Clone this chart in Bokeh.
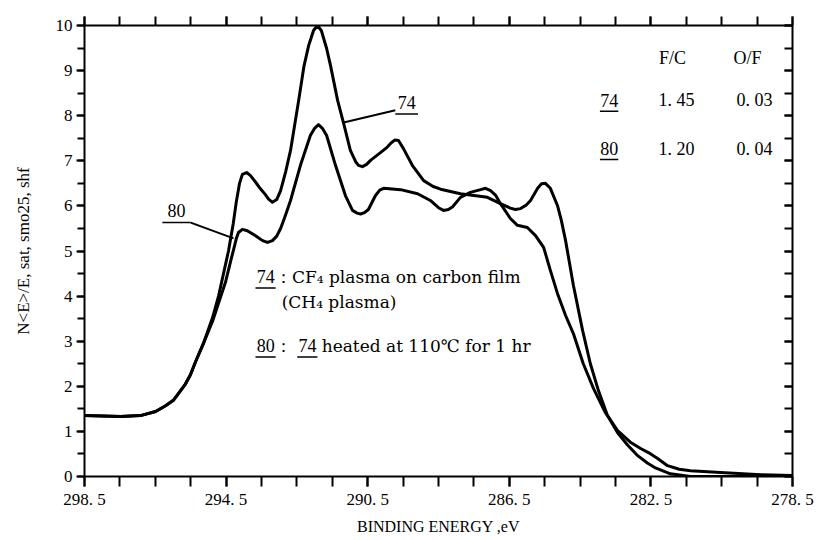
from bokeh.plotting import figure
from bokeh.models import Range1d, FixedTicker, LinearAxis, Label
from bokeh.embed import file_html
from bokeh.resources import INLINE

# ---- data (binding energy in eV, intensity) ----
energy_74 = [298.5, 297.48, 296.92, 296.49, 296.21, 295.99, 295.79, 295.65, 295.51, 295.36,
             295.14, 294.88, 294.71, 294.43, 294.3, 294.21, 294.12, 294.04, 293.92, 293.81,
             293.67, 293.53, 293.39, 293.3, 293.19, 293.07, 292.96, 292.82, 292.68, 292.45,
             292.3, 292.17, 292.03, 291.92, 291.81, 291.66, 291.55, 291.35, 291.18, 290.99,
             290.84, 290.76, 290.65, 290.53, 290.42, 290.14, 289.98, 289.86, 289.74, 289.63,
             289.49, 289.24, 288.92, 288.65, 288.44, 287.88, 287.12, 286.75, 286.47, 286.33,
             286.18, 286.02, 285.9, 285.7, 285.59, 285.48, 285.34, 285.14, 285.03, 284.91,
             284.69, 284.43, 284.21, 283.98, 283.73, 283.44, 283.16, 282.9, 282.6, 282.37,
             281.95, 281.38, 280.53, 279.4, 278.5]
intensity_74 = [1.35, 1.33, 1.35, 1.44, 1.57, 1.69, 1.9, 2.05, 2.25, 2.55,
                2.95, 3.53, 4.01, 5.01, 5.6, 6.1, 6.5, 6.7, 6.74, 6.67,
                6.53, 6.38, 6.25, 6.15, 6.08, 6.14, 6.34, 6.75, 7.23, 8.34,
                9.1, 9.55, 9.89, 10.0, 9.89, 9.49, 9.11, 8.34, 7.83, 7.23,
                6.98, 6.9, 6.87, 6.92, 7.01, 7.18, 7.28, 7.38, 7.46, 7.45,
                7.27, 6.9, 6.56, 6.43, 6.37, 6.27, 6.19, 6.05, 5.95, 5.92,
                5.94, 6.02, 6.12, 6.39, 6.49, 6.5, 6.39, 6.01, 5.68, 5.23,
                4.24, 3.24, 2.5, 1.9, 1.36, 0.97, 0.7, 0.48, 0.3, 0.19,
                0.06, 0.0, 0.0, 0.0, 0.0]

energy_80 = [298.5, 297.48, 296.92, 296.49, 296.21, 295.99, 295.79, 295.65, 295.51, 295.36,
             295.14, 294.88, 294.71, 294.52, 294.38, 294.26, 294.21, 294.15, 294.04, 293.9,
             293.67, 293.47, 293.33, 293.19, 293.07, 292.96, 292.82, 292.68, 292.4, 292.12,
             292.0, 291.89, 291.78, 291.66, 291.41, 291.13, 290.93, 290.8, 290.7, 290.59,
             290.48, 290.28, 290.16, 290.05, 289.57, 289.09, 288.73, 288.5, 288.36, 288.22,
             288.1, 287.88, 287.6, 287.31, 287.17, 287.03, 286.89, 286.75, 286.47, 286.27,
             285.99, 285.76, 285.53, 285.34, 285.14, 284.91, 284.69, 284.41, 284.12, 283.79,
             283.44, 283.08, 282.79, 282.57, 282.31, 282.03, 281.7, 281.38, 280.53, 279.4,
             278.5]
intensity_80 = [1.35, 1.33, 1.35, 1.44, 1.57, 1.69, 1.9, 2.05, 2.25, 2.55,
                2.95, 3.45, 3.85, 4.3, 4.75, 5.12, 5.28, 5.41, 5.48, 5.45,
                5.34, 5.23, 5.19, 5.23, 5.33, 5.5, 5.8, 6.12, 6.9, 7.56,
                7.72, 7.8, 7.72, 7.56, 6.9, 6.23, 5.9, 5.84, 5.82, 5.85,
                5.92, 6.23, 6.35, 6.39, 6.36, 6.27, 6.12, 5.96, 5.9, 5.92,
                5.98, 6.19, 6.3, 6.36, 6.39, 6.34, 6.24, 6.05, 5.72, 5.57,
                5.52, 5.34, 5.08, 4.57, 4.06, 3.57, 3.17, 2.5, 1.95, 1.42,
                1.02, 0.76, 0.62, 0.53, 0.4, 0.24, 0.16, 0.13, 0.09, 0.04,
                0.02]

x_ticks = [298.5, 294.5, 290.5, 286.5, 282.5, 278.5]
x_tick_labels = ["298. 5", "294. 5", "290. 5", "286. 5", "282. 5", "278. 5"]
x_minor = [298.5 - i for i in range(21)]
y_ticks = list(range(0, 11))
y_minor = [i * 0.5 for i in range(21)]

table_header = ["F/C", "O/F"]
table_rows = ["74", "80"]
table_fc = ["1. 45", "1. 20"]
table_of = ["0. 03", "0. 04"]

SERIF = "Liberation Serif"
TXT = "DejaVu Serif"

p = figure(width=818, height=540, output_backend="svg", toolbar_location=None,
           x_range=Range1d(298.5, 278.5), y_range=Range1d(0, 10),
           min_border_left=84, min_border_right=26, min_border_top=25, min_border_bottom=64,
           background_fill_color="white", border_fill_color="white")
p.outline_line_color = None
p.xgrid.visible = False
p.ygrid.visible = False

p.line(energy_74, intensity_74, line_color="black", line_width=3, line_join="round")
p.line(energy_80, intensity_80, line_color="black", line_width=3, line_join="round")

xa = p.xaxis[0]
xa.ticker = FixedTicker(ticks=x_ticks, minor_ticks=x_minor)
xa.major_label_overrides = {t: l for t, l in zip(x_ticks, x_tick_labels)}
xa.axis_label = "BINDING ENERGY ,eV"
ya = p.yaxis[0]
ya.ticker = FixedTicker(ticks=y_ticks, minor_ticks=y_minor)
ya.axis_label = "N<E>/E, sat, smo25, shf"

for ax in (xa, ya):
    ax.axis_line_width = 2
    ax.axis_line_color = "black"
    ax.major_tick_line_width = 2
    ax.minor_tick_line_width = 2
    ax.major_tick_in = 0
    ax.minor_tick_in = 0
    ax.major_label_text_font = SERIF
    ax.major_label_text_font_size = "17px"
    ax.major_label_text_color = "black"
    ax.axis_label_text_font = SERIF
    ax.axis_label_text_font_style = "normal"
    ax.axis_label_text_color = "black"
xa.axis_label_text_font_size = "16px"
ya.axis_label_text_font_size = "17px"
xa.major_tick_out = 10
xa.minor_tick_out = 10
xa.major_label_standoff = 3
xa.axis_label_standoff = 6
ya.major_tick_out = 8
ya.minor_tick_out = 7
ya.major_label_standoff = 4
ya.axis_label_standoff = 20

top = LinearAxis(ticker=FixedTicker(ticks=x_ticks, minor_ticks=x_minor),
                 major_label_text_font_size="0px", major_label_text_alpha=0)
top.major_tick_in = 0; top.minor_tick_in = 0
top.major_tick_out = 9; top.minor_tick_out = 9
right = LinearAxis(ticker=FixedTicker(ticks=y_ticks, minor_ticks=y_minor),
                   major_label_text_font_size="0px", major_label_text_alpha=0)
right.major_tick_in = 8; right.minor_tick_in = 8
right.major_tick_out = 0; right.minor_tick_out = 0
for ax in (top, right):
    ax.axis_line_width = 2
    ax.major_tick_line_width = 2
    ax.minor_tick_line_width = 2
p.add_layout(top, "above")
p.add_layout(right, "right")

def lab(x, y, text, font=SERIF, size="18px", align="center"):
    p.add_layout(Label(x=x, y=y, text=text, text_font=font, text_font_size=size,
                       text_align=align, text_baseline="middle", text_color="black"))

def uline(x0, x1, y):
    p.segment(x0=[x0], y0=[y], x1=[x1], y1=[y], line_color="black", line_width=1.5)

# curve labels with leader lines
lab(289.4, 8.3, "74")
uline(289.72, 289.08, 8.04)
p.segment(x0=[291.18], y0=[7.85], x1=[289.72], y1=[8.12], line_color="black", line_width=2)

lab(295.9, 5.9, "80")
uline(296.3, 295.5, 5.63)
p.segment(x0=[295.5], y0=[5.63], x1=[294.29], y1=[5.28], line_color="black", line_width=2)

# legend text
LS = "17px"
lab(293.38, 4.43, "74")
uline(293.67, 293.1, 4.18)
lab(293.12, 4.43, "\uff1aCF\u2084 plasma on carbon film", font=TXT, size=LS, align="left")
lab(292.93, 3.88, "(CH\u2084 plasma)", font=TXT, size=LS, align="left")
lab(293.38, 2.9, "80")
uline(293.67, 293.1, 2.65)
lab(293.12, 2.9, "\uff1a", font=TXT, size=LS, align="left")
lab(292.2, 2.9, "74")
uline(292.49, 291.92, 2.65)
lab(291.8, 2.9, "heated at 110\u2103 for 1 hr", font=TXT, size=LS, align="left")

# table
for hx, h in zip([281.89, 279.77], table_header):
    lab(hx, 9.27, h)
row_y = [8.34, 7.27]
for ry, rname, fc, of in zip(row_y, table_rows, table_fc, table_of):
    lab(283.68, ry, rname)
    uline(283.94, 283.42, ry - 0.24)
    lab(281.78, ry, fc)
    lab(279.57, ry, of)

open("out.html", "w").write(file_html(p, INLINE))
